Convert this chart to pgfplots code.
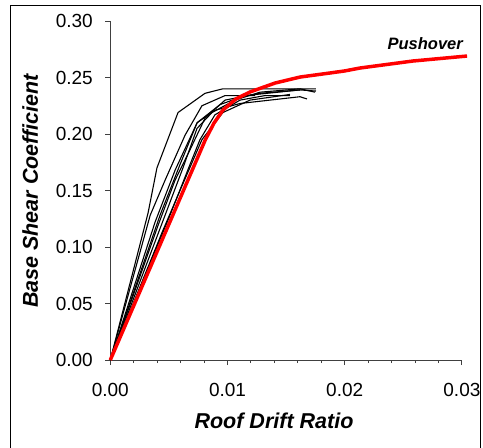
\documentclass[border=0pt]{standalone}
\usepackage{fontspec}
\setmainfont{Liberation Sans}
\usepackage{pgfplots}
\pgfplotsset{compat=1.18}
\begin{document}
\begin{tikzpicture}
\useasboundingbox (0pt,0pt) rectangle (483pt,448pt);
\draw[line width=1pt] (10pt,-5pt) -- (10pt,442.3pt) -- (480pt,442.3pt) -- (480pt,-5pt);
\begin{axis}[
  at={(110.3pt,88pt)}, anchor=south west,
  scale only axis, width=351.6pt, height=339pt,
  xmin=0, xmax=0.03, ymin=0, ymax=0.30,
  clip=false,
  axis x line*=bottom, axis y line*=left,
  axis line style={-, black!75, line width=0.9pt},
  every tick/.style={black!75, line width=0.9pt},
  tick align=outside,
  major tick length=5pt, minor tick length=3pt,
  xtick={0,0.01,0.02,0.03}, minor x tick num=4,
  ytick={0,0.05,0.10,0.15,0.20,0.25,0.30},
  scaled ticks=false,
  /pgf/number format/fixed,
  /pgf/number format/fixed zerofill,
  /pgf/number format/precision=2,
  /pgf/number format/assume math mode=true,
  ticklabel style={font=\fontsize{19}{22}\selectfont},
  yticklabel style={xshift=-9pt},
  xticklabel style={yshift=-15pt},
]
% black test curves
\addplot[black, line width=1.1pt] coordinates {(0,0) (0.00322,0.130) (0.00398,0.170) (0.00578,0.219) (0.00808,0.236) (0.00961,0.240) (0.01755,0.240)};
\addplot[black, line width=1.1pt] coordinates {(0,0) (0.00340,0.128) (0.00467,0.159) (0.00638,0.199) (0.00782,0.225) (0.00979,0.234) (0.01235,0.234)};
\addplot[black, line width=1.1pt] coordinates {(0,0) (0.00382,0.122) (0.00553,0.168) (0.00741,0.210) (0.00894,0.221) (0.01107,0.227) (0.01619,0.233) (0.01678,0.231)};
\addplot[black, line width=1.1pt] coordinates {(0,0) (0.00424,0.128) (0.00595,0.173) (0.00741,0.210) (0.00936,0.226) (0.01149,0.234) (0.01619,0.239) (0.01755,0.238)};
\addplot[black, line width=1.1pt] coordinates {(0,0) (0.00467,0.128) (0.00620,0.170) (0.00740,0.205) (0.00868,0.219) (0.01064,0.230) (0.01277,0.237) (0.01619,0.240) (0.01747,0.237)};
\addplot[black, line width=1.1pt] coordinates {(0,0) (0.00509,0.128) (0.00680,0.173) (0.00765,0.195) (0.00893,0.217) (0.01107,0.230) (0.01320,0.234) (0.01533,0.234)};
\addplot[black, line width=1.1pt] coordinates {(0,0) (0.00450,0.115) (0.00595,0.150) (0.00782,0.195) (0.00961,0.219) (0.01192,0.230) (0.01533,0.235)};
\addplot[black, line width=1.1pt] coordinates {(0,0) (0.00407,0.119) (0.00552,0.159) (0.00680,0.186) (0.00808,0.214) (0.00979,0.230) (0.01277,0.236) (0.01619,0.239)};
% pushover
\addplot[red, line width=3.5pt] coordinates {(0,0) (0.00810,0.1947) (0.00885,0.2097) (0.00961,0.2212) (0.01072,0.2310) (0.01192,0.2372) (0.01406,0.2451) (0.01619,0.2504) (0.01875,0.2540) (0.02000,0.2558) (0.02131,0.2584) (0.02583,0.2646) (0.03044,0.2690)};
\end{axis}
\node[anchor=base east, inner sep=0pt, font=\fontsize{16.5}{18}\selectfont\bfseries\itshape] at (463pt,398pt) {Pushover};
\node[anchor=base, inner sep=0pt, font=\fontsize{21.5}{24}\selectfont\bfseries\itshape] at (274pt,19pt) {Roof Drift Ratio};
\node[anchor=base, rotate=90, inner sep=0pt, font=\fontsize{21.5}{24}\selectfont\bfseries\itshape] at (38pt,257pt) {Base Shear Coefficient};
\end{tikzpicture}
\end{document}
